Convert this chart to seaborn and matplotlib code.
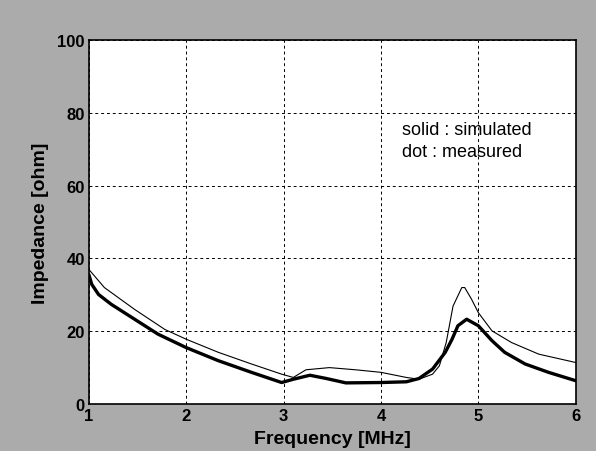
import pandas as pd
import matplotlib
matplotlib.use("Agg")
import matplotlib.pyplot as plt
import seaborn as sns

# thick curve
freq_thick = [1.0, 1.03, 1.1, 1.23, 1.47, 1.71, 2.0, 2.33, 2.67, 2.98, 3.1, 3.27, 3.44,
              3.64, 4.0, 4.26, 4.39, 4.53, 4.66, 4.73, 4.79, 4.88, 5.0, 5.14, 5.27,
              5.48, 5.72, 6.0]
imp_thick = [35.6, 32.9, 30.1, 27.4, 23.3, 19.2, 15.5, 11.9, 8.7, 5.9, 6.8, 7.9, 7.0,
             5.8, 5.9, 6.1, 7.0, 9.6, 14.2, 17.8, 21.5, 23.3, 21.5, 17.4, 14.2,
             11.0, 8.7, 6.4]

# thin curve
freq_thin = [1.0, 1.16, 1.47, 1.78, 2.0, 2.33, 2.67, 2.98, 3.1, 3.23, 3.47, 3.74, 4.0,
             4.26, 4.39, 4.53, 4.6, 4.67, 4.74, 4.83, 4.86, 4.93, 5.0, 5.14, 5.34,
             5.62, 6.0]
imp_thin = [37.0, 32.0, 26.0, 20.5, 17.8, 14.2, 11.0, 8.2, 7.3, 9.4, 10.0, 9.4, 8.7,
            7.3, 6.8, 8.2, 10.5, 16.9, 26.9, 32.0, 32.0, 28.8, 25.1, 20.1, 16.9,
            13.7, 11.4]

x_ticks = [1, 2, 3, 4, 5, 6]
y_ticks = [0, 20, 40, 60, 80, 100]

sns.set_style("white")
plt.rcParams["font.family"] = ["Liberation Sans", "DejaVu Sans"]

fig = plt.figure(figsize=(5.96, 4.52), dpi=100, facecolor="#ababab")
ax = fig.add_axes([0.149, 0.104, 0.817, 0.805])
ax.set_facecolor("white")

df_thick = pd.DataFrame({"f": freq_thick, "z": imp_thick})
df_thin = pd.DataFrame({"f": freq_thin, "z": imp_thin})
sns.lineplot(data=df_thin, x="f", y="z", ax=ax, color="black", linewidth=0.8)
sns.lineplot(data=df_thick, x="f", y="z", ax=ax, color="black", linewidth=2.4)

ax.set_xlim(1, 6)
ax.set_ylim(0, 100)
ax.set_xticks(x_ticks)
ax.set_yticks(y_ticks)
ax.set_xticklabels([str(t) for t in x_ticks], fontweight="heavy", fontsize=12)
ax.set_yticklabels([str(t) for t in y_ticks], fontweight="heavy", fontsize=12)
ax.tick_params(direction="in", length=4, width=1, pad=3, colors="black")
ax.grid(True, color="black", linestyle=(0, (3, 3)), linewidth=0.7)
for s in ax.spines.values():
    s.set_color("black")
    s.set_linewidth(1.2)

ax.set_xlabel("Frequency [MHz]", fontweight="heavy", fontsize=14, labelpad=5, color="black")
ax.set_ylabel("Impedance [ohm]", fontweight="heavy", fontsize=14, labelpad=6, color="black")

ax.text(4.22, 75.4, "solid : simulated", fontsize=13, va="center", color="black")
ax.text(4.22, 69.3, "dot : measured", fontsize=13, va="center", color="black")

fig.savefig("out.png", dpi=100, facecolor=fig.get_facecolor())
